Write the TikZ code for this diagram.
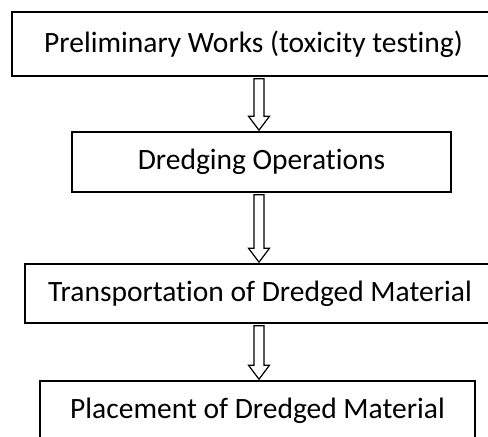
\documentclass[tikz,border=0pt]{standalone}
\usepackage{fontspec}
\setmainfont[Ligatures=NoCommon]{Carlito}
\usetikzlibrary{calc}
\tikzset{
  stage/.style={draw, line width=1.6pt, inner sep=0pt, font=\fontsize{29.5}{34}\selectfont},
  hollow/.style={draw, line width=1.2pt, fill=white, line join=miter}
}
\begin{document}
\begin{tikzpicture}[x=1pt, y=-1pt]
  \useasboundingbox (0,0) rectangle (488,437);
  \node[stage, minimum width=483pt, minimum height=64pt] (prelim) at (253.5,44) {Preliminary Works (toxicity testing)};
  \node[stage, minimum width=379pt, minimum height=60pt] (dredge) at (261.5,162) {Dredging Operations};
  \node[stage, minimum width=470pt, minimum height=59pt] (transport) at (260,293.5) {Transportation of Dredged Material};
  \node[stage, minimum width=435pt, minimum height=60pt] (place) at (257.5,411) {Placement of Dredged Material};
  \foreach \a/\b in {prelim/dredge, dredge/transport, transport/place}{
    \coordinate (top) at ($(259,0 |- \a.south)+(0,2)$);
    \coordinate (tip) at ($(259,0 |- \b.north)+(0,-1)$);
    \draw[hollow] ($(top)+(-5,0)$) -- ($(tip)+(-5,-14)$) -- ($(tip)+(-10.5,-14)$) -- (tip)
      -- ($(tip)+(10.5,-14)$) -- ($(tip)+(5,-14)$) -- ($(top)+(5,0)$) -- cycle;
  }
\end{tikzpicture}
\end{document}
